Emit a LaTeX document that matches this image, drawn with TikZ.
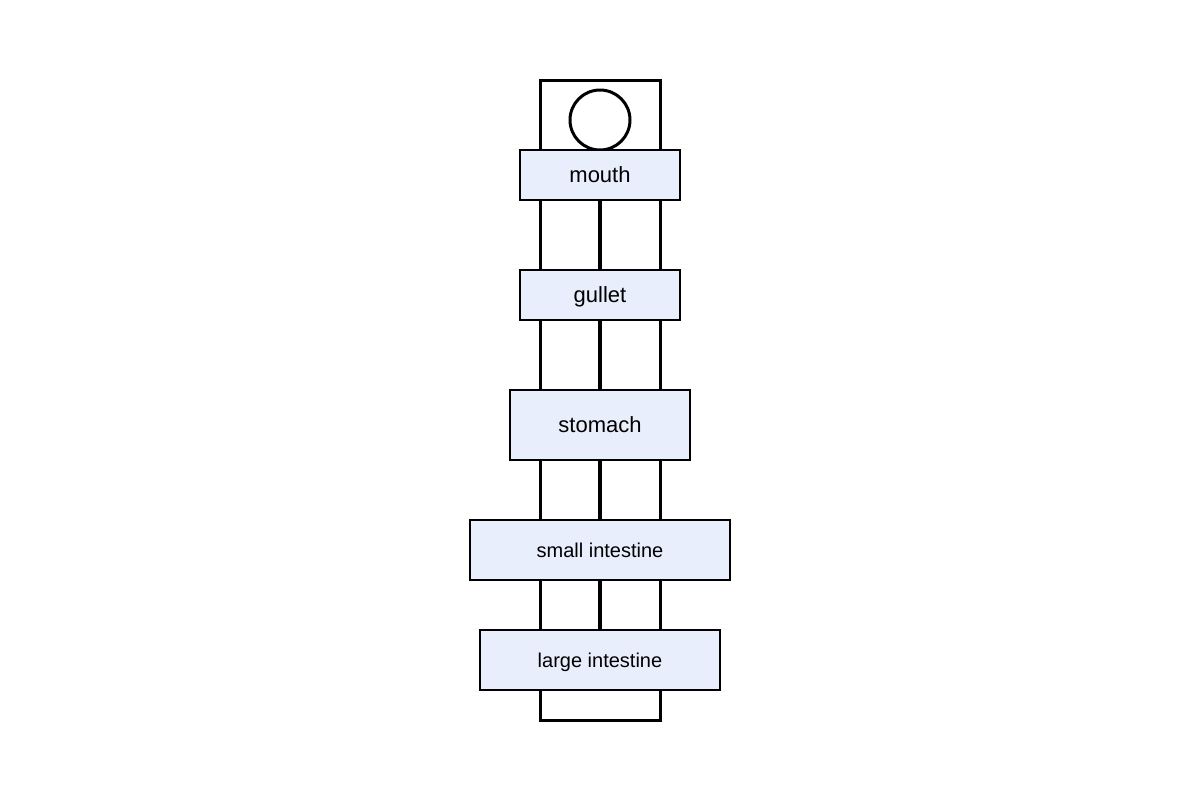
\documentclass[tikz,border=0pt]{standalone}
\usepackage{fontspec}
\setmainfont{Liberation Sans}
\definecolor{organfill}{HTML}{E8EEFC}

\begin{document}
\begin{tikzpicture}[x=0.5pt, y=-0.5pt,
	organ/.style={draw, line width=1pt, fill=organfill, inner sep=0pt, text height=0.72em, text depth=0pt, font=\fontsize{11}{13}\selectfont},
	smallorgan/.style={organ, font=\fontsize{10}{12}\selectfont},
	tract/.style={line width=1.75pt}]
	\useasboundingbox (0, 0) rectangle (1200, 800);

	% body outline
	\draw[line width=1.5pt] (540, 80) rectangle (660, 720);
	\node[draw, circle, line width=1.5pt, minimum size=30pt, inner sep=0pt] (head) at (600, 120) {};

	\node[organ, minimum width=80pt, minimum height=25pt] (mouth) at (600, 175) {mouth};
	\node[organ, minimum width=80pt, minimum height=25pt] (gullet) at (600, 295) {gullet};
	\node[organ, minimum width=90pt, minimum height=35pt] (stomach) at (600, 425) {stomach};
	\node[smallorgan, minimum width=130pt, minimum height=30pt] (small) at (600, 550) {small intestine};
	\node[smallorgan, minimum width=120pt, minimum height=30pt] (large) at (600, 660) {large intestine};

	\draw[tract] (mouth) -- (gullet);
	\draw[tract] (gullet) -- (stomach);
	\draw[tract] (stomach) -- (small);
	\draw[tract] (small) -- (large);
\end{tikzpicture}
\end{document}
